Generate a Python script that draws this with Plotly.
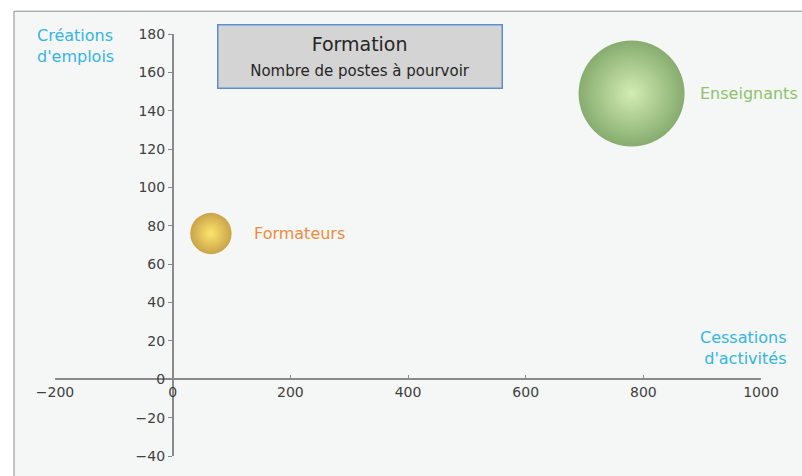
import plotly.graph_objects as go

# Data
categories = ["Formateurs", "Enseignants"]
cessations = [65, 780]          # x: Cessations d'activités
creations = [76, 149]           # y: Créations d'emplois
postes = [35, 230]              # bubble size: Nombre de postes à pourvoir
label_colors = ["#F08A3C", "#8DC26A"]
edge_colors = ["#B88000", "#578C34"]
center_colors = ["#FFDC30", "#C4E896"]

x_ticks = [-200, 0, 200, 400, 600, 800, 1000]
y_ticks = [-40, -20, 0, 20, 40, 60, 80, 100, 120, 140, 160, 180]

FONT = "'DejaVu Sans', sans-serif"
MAXD = 106
sizeref = 2 * max(postes) / (MAXD ** 2)
label_gap = [20, 13]

fig = go.Figure()
annots = []
for i, name in enumerate(categories):
    fig.add_trace(go.Scatter(
        x=[cessations[i]], y=[creations[i]],
        mode="markers",
        marker=dict(
            size=[postes[i]], sizemode="area", sizeref=sizeref,
            color=edge_colors[i],
            gradient=dict(type="radial", color=center_colors[i]),
            line=dict(width=0),
        ),
        cliponaxis=False,
        showlegend=False,
        hoverinfo="skip",
    ))
    radius = (2 * postes[i] / sizeref) ** 0.5 / 2
    annots.append(dict(
        x=cessations[i], y=creations[i], xref="x", yref="y",
        xanchor="left", yanchor="middle", xshift=radius + label_gap[i],
        text=name, showarrow=False,
        font=dict(color=label_colors[i], size=16, family=FONT),
    ))

W, H = 802, 476
ml, mr, mt, mb = 55, 41, 34, 16
pw, ph = W - ml - mr, H - mt - mb

def px(xp):
    return (xp - ml) / pw

def py(yp):
    return (H - mb - yp) / ph

annots += [
    dict(
        xref="paper", yref="paper", x=px(360), y=py(57),
        xanchor="center", yanchor="middle",
        text="Formation<br><span style='font-size:15px'>Nombre de postes à pourvoir</span>",
        font=dict(size=19, color="#262626", family=FONT),
        bgcolor="#D4D4D4", bordercolor="#5B8FD0", borderwidth=1.5,
        width=281, height=60, showarrow=False,
    ),
    dict(
        xref="paper", yref="paper", x=px(35), y=py(24),
        xanchor="left", yanchor="top", align="left",
        text="Créations<br>d'emplois",
        font=dict(size=16, color="#33B5E5", family=FONT),
        showarrow=False,
    ),
    dict(
        xref="paper", yref="paper", x=px(788), y=py(329),
        xanchor="right", yanchor="top", align="right",
        text="Cessations<br>d'activités",
        font=dict(size=16, color="#33B5E5", family=FONT),
        showarrow=False,
    ),
]

fig.update_layout(
    width=W, height=H,
    margin=dict(l=ml, r=mr, t=mt, b=mb),
    paper_bgcolor="white",
    plot_bgcolor="rgba(0,0,0,0)",
    font=dict(family=FONT, color="#404040", size=14),
    xaxis=dict(
        range=[-200, 1000], tickvals=x_ticks, showgrid=False, zeroline=False,
        showline=True, linecolor="#8A8A8A", linewidth=1.5,
        ticks="inside", ticklen=4, tickcolor="#8A8A8A",
        anchor="free", position=40 / 220,
        tickfont=dict(size=14, color="#404040"),
    ),
    yaxis=dict(
        range=[-40, 180], tickvals=y_ticks, showgrid=False, zeroline=False,
        showline=True, linecolor="#8A8A8A", linewidth=1.5,
        ticks="outside", ticklen=4, tickcolor="#8A8A8A",
        anchor="free", position=200 / 1200,
        tickfont=dict(size=14, color="#404040"),
    ),
    shapes=[dict(
        type="rect", xref="paper", yref="paper", layer="below",
        x0=px(14), x1=px(830), y0=py(500), y1=py(11),
        fillcolor="#F5F7F7", line=dict(color="#8C8C8C", width=1),
    )],
    annotations=annots,
)

fig.write_html("out.html", config={"displayModeBar": False},
               post_script="document.body.style.margin='0';")
